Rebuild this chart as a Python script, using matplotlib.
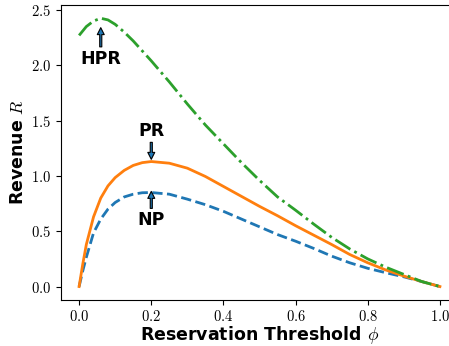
import matplotlib
matplotlib.use("Agg")
import matplotlib.pyplot as plt
from matplotlib.ticker import FuncFormatter

plt.rcParams["mathtext.fontset"] = "cm"

# reservation threshold grid
phi = [0.0, 0.01, 0.02, 0.04, 0.06, 0.08, 0.1, 0.125, 0.15, 0.175, 0.2,
       0.25, 0.3, 0.35, 0.4, 0.45, 0.5, 0.55, 0.6, 0.65, 0.7, 0.75, 0.8,
       0.85, 0.9, 0.95, 1.0]

rev_np = [0.0, 0.14, 0.265, 0.485, 0.61, 0.70, 0.76, 0.81, 0.835, 0.848, 0.85,
          0.835, 0.79, 0.74, 0.68, 0.61, 0.54, 0.47, 0.41, 0.345, 0.275,
          0.215, 0.165, 0.125, 0.088, 0.045, 0.0]

rev_pr = [0.0, 0.2, 0.38, 0.63, 0.80, 0.91, 0.985, 1.05, 1.095, 1.12, 1.13,
          1.115, 1.07, 0.995, 0.905, 0.815, 0.725, 0.64, 0.55, 0.465, 0.38,
          0.29, 0.215, 0.15, 0.095, 0.045, 0.0]

rev_hpr = [2.27, 2.31, 2.35, 2.40, 2.425, 2.41, 2.37, 2.30, 2.22, 2.13, 2.04,
           1.85, 1.65, 1.46, 1.29, 1.12, 0.96, 0.81, 0.69, 0.565, 0.445,
           0.34, 0.25, 0.175, 0.11, 0.045, 0.0]

fig = plt.figure(figsize=(4.49, 3.46), dpi=100)
ax = fig.add_axes([0.136, 0.133, 0.884, 0.853])
ax.spines["right"].set_visible(False)

ax.plot(phi, rev_np, color="C0", lw=2, ls="--")
ax.plot(phi, rev_pr, color="C1", lw=2, ls="-")
ax.plot(phi, rev_hpr, color="C2", lw=2, ls="-.")

arrow = dict(facecolor="C0", edgecolor="black", width=1.5, headwidth=5,
             headlength=5, lw=0.8)
txt = dict(ha="center", va="center", fontsize=12.5, fontweight="bold")
ax.annotate("HPR", xy=(0.06, 2.34), xytext=(0.06, 2.06), arrowprops=arrow, **txt)
ax.annotate("PR", xy=(0.2, 1.15), xytext=(0.2, 1.41), arrowprops=arrow, **txt)
ax.annotate("NP", xy=(0.2, 0.86), xytext=(0.2, 0.60), arrowprops=arrow, **txt)

ax.set_xticks([0.0, 0.2, 0.4, 0.6, 0.8, 1.0])
ax.set_yticks([0.0, 0.5, 1.0, 1.5, 2.0, 2.5])
fmt = FuncFormatter(lambda v, pos: f"${v:.1f}$")
ax.xaxis.set_major_formatter(fmt)
ax.yaxis.set_major_formatter(fmt)
ax.tick_params(labelsize=10.5)
ax.tick_params(axis="x", pad=3)

ax.set_xlabel(r"Reservation Threshold $\phi$", fontsize=12.5,
              fontweight="bold", labelpad=0)
ax.set_ylabel(r"Revenue $R$", fontsize=12.5, fontweight="bold", labelpad=3)

fig.savefig("out.png", dpi=100)
